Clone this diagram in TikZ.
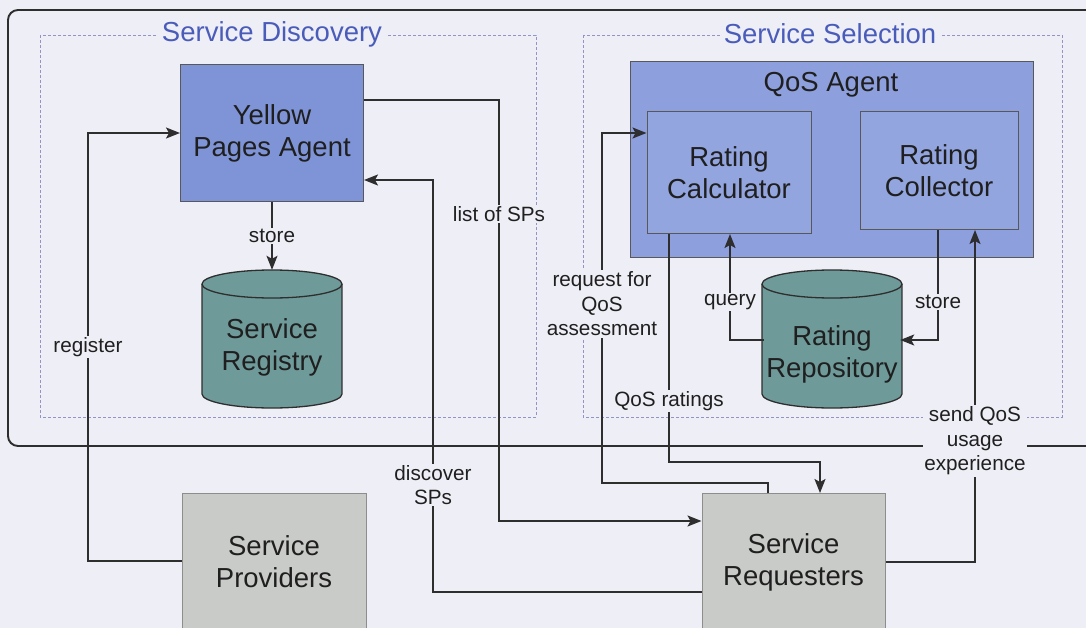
\documentclass[tikz,border=0pt]{standalone}
\usepackage{fontspec}
\setmainfont{Liberation Sans}
\usetikzlibrary{arrows.meta}
\definecolor{bgc}{HTML}{EEEEF6}
\definecolor{titleblue}{HTML}{4A5CBA}
\definecolor{dashc}{HTML}{9494C4}
\definecolor{ypfill}{HTML}{7F94D7}
\definecolor{qosfill}{HTML}{8D9FDD}
\definecolor{innerfill}{HTML}{93A5DF}
\definecolor{cylfill}{HTML}{6F9A9A}
\definecolor{grayfill}{HTML}{C9CBC8}
\definecolor{linec}{HTML}{2E2E2E}
\tikzset{
  mainfont/.style={font=\fontsize{27.5}{32}\selectfont},
  lblfont/.style={font=\fontsize{20.7}{24.5}\selectfont},
  boxnode/.style={draw=linec!80, line width=1pt, inner sep=0pt, align=center, mainfont, text=black!88},
  lbl/.style={fill=bgc, inner sep=1.5pt, align=center, lblfont, text=black!88},
  ttl/.style={fill=bgc, inner sep=4pt, mainfont, text=titleblue},
  conn/.style={draw=linec, line width=1.6pt},
  arr/.style={conn, -{Stealth[length=14pt,width=11pt,inset=3pt]}},
  dbox/.style={draw=dashc, line width=0.9pt, dash pattern=on 3pt off 2pt},
}
\begin{document}
\begin{tikzpicture}[x=1pt,y=-1pt]
\useasboundingbox (0,0) rectangle (1086,628);
\clip (0,0) rectangle (1086,628);
\fill[bgc] (0,0) rectangle (1086,628);
% outer frame
\draw[draw=linec, line width=1.9pt, rounded corners=10pt] (8,10) rectangle (1120,446);
% dashed group boxes
\draw[dbox] (40,35) rectangle (536,417);
\draw[dbox] (583,35) rectangle (1062,417);
\node[ttl] (tsd) at (272,34) {Service Discovery};
\node[ttl] (tss) at (830,34) {Service Selection};
% Yellow pages agent
\node[boxnode, fill=ypfill, minimum width=183pt, minimum height=137pt] (ypa) at (272,133.5) {Yellow\\Pages Agent};
% QoS agent
\node[boxnode, fill=qosfill, minimum width=403pt, minimum height=196pt] (qos) at (831.5,160) {};
\node[mainfont, text=black!88] (qost) at (831,85) {QoS Agent};
\node[boxnode, fill=innerfill, minimum width=164pt, minimum height=122pt] (rcalc) at (729,172.5) {Rating\\Calculator};
\node[boxnode, fill=innerfill, minimum width=158pt, minimum height=118pt] (rcoll) at (939,170.5) {Rating\\Collector};
% cylinders
\foreach \cx in {272, 832}{
  \fill[cylfill] (\cx-70,284) rectangle (\cx+70,394);
  \fill[cylfill] (\cx,394) ellipse [x radius=70, y radius=14];
  \fill[cylfill] (\cx,284) ellipse [x radius=70, y radius=14];
  \draw[linec, line width=1.3pt] (\cx-70,284) -- (\cx-70,394) arc[start angle=180, end angle=0, x radius=70, y radius=14] -- (\cx+70,284);
  \draw[linec, line width=1.3pt] (\cx,284) ellipse [x radius=70, y radius=14];
}
\node[inner sep=0pt, minimum width=140pt, minimum height=138pt] (sreg) at (272,339) {};
\node[inner sep=0pt, minimum width=136pt, minimum height=138pt] (rrep) at (832,339) {};
\node[align=center, mainfont, text=black!88] (sregt) at (272,347) {Service\\Registry};
\node[align=center, mainfont, text=black!88] (rrept) at (832,354) {Rating\\Repository};
% bottom boxes
\node[boxnode, fill=grayfill, draw=grayfill!70!black, minimum width=184pt, minimum height=137pt] (sp) at (274,562) {Service\\Providers};
\node[boxnode, fill=grayfill, draw=grayfill!70!black, minimum width=183pt, minimum height=137pt] (sr) at (793.5,562) {Service\\Requesters};
% named coordinates for bends
\coordinate (regx) at (88,133);
\coordinate (lspx) at (499,100);
\coordinate (disx) at (433,180);
\coordinate (reqx) at (602,133);
\coordinate (ratx) at (669,462);
\coordinate (sendx) at (975,562);
\coordinate (y561) at (0,561);
\coordinate (y133) at (0,133);
\coordinate (y100) at (0,100);
\coordinate (y521) at (0,521);
\coordinate (y592) at (0,592);
\coordinate (y180) at (0,180);
\coordinate (y483) at (0,483);
\coordinate (y562) at (0,562);
\coordinate (y340) at (0,340);
\coordinate (x768) at (768,0);
\coordinate (x820) at (820,0);
\coordinate (x730) at (730,0);
\coordinate (x938) at (938,0);
% connectors
\draw[arr] (sp.west |- y561) -| (regx) -- (ypa.west |- y133);
\draw[arr] (ypa.east |- y100) -- (lspx) |- (sr.west |- y521);
\draw[arr] (sr.west |- y592) -| (disx) -- (ypa.east |- y180);
\draw[arr] (sr.north -| x768) -- (x768 |- y483) -| (reqx) -- (rcalc.west |- y133);
\draw[arr] (rcalc.south -| ratx) -- (ratx) -| (sr.north -| x820);
\draw[arr] (sr.east |- y562) -- (sendx) -- (rcoll.south -| sendx);
\draw[arr] (rrep.west |- y340) -| (rcalc.south -| x730);
\draw[arr] (rcoll.south -| x938) |- (rrep.east |- y340);
\draw[arr] (ypa.south) -- (sreg.north);
% labels
\node[lbl] (lstore1) at (272,236) {store};
\node[lbl] (lreg) at (88,347) {register};
\node[lbl] (llsp) at (499,214) {list of SPs};
\node[lbl] (ldis) at (433,485) {discover\\SPs};
\node[lbl] (lreq) at (602,304) {request for\\QoS\\assessment};
\node[lbl] (lrat) at (669,401) {QoS ratings};
\node[lbl] (lquery) at (730,302) {query};
\node[lbl] (lstore2) at (938,302) {store};
\node[lbl] (lsend) at (975,441) {send QoS\\usage\\experience};
\end{tikzpicture}
\end{document}
